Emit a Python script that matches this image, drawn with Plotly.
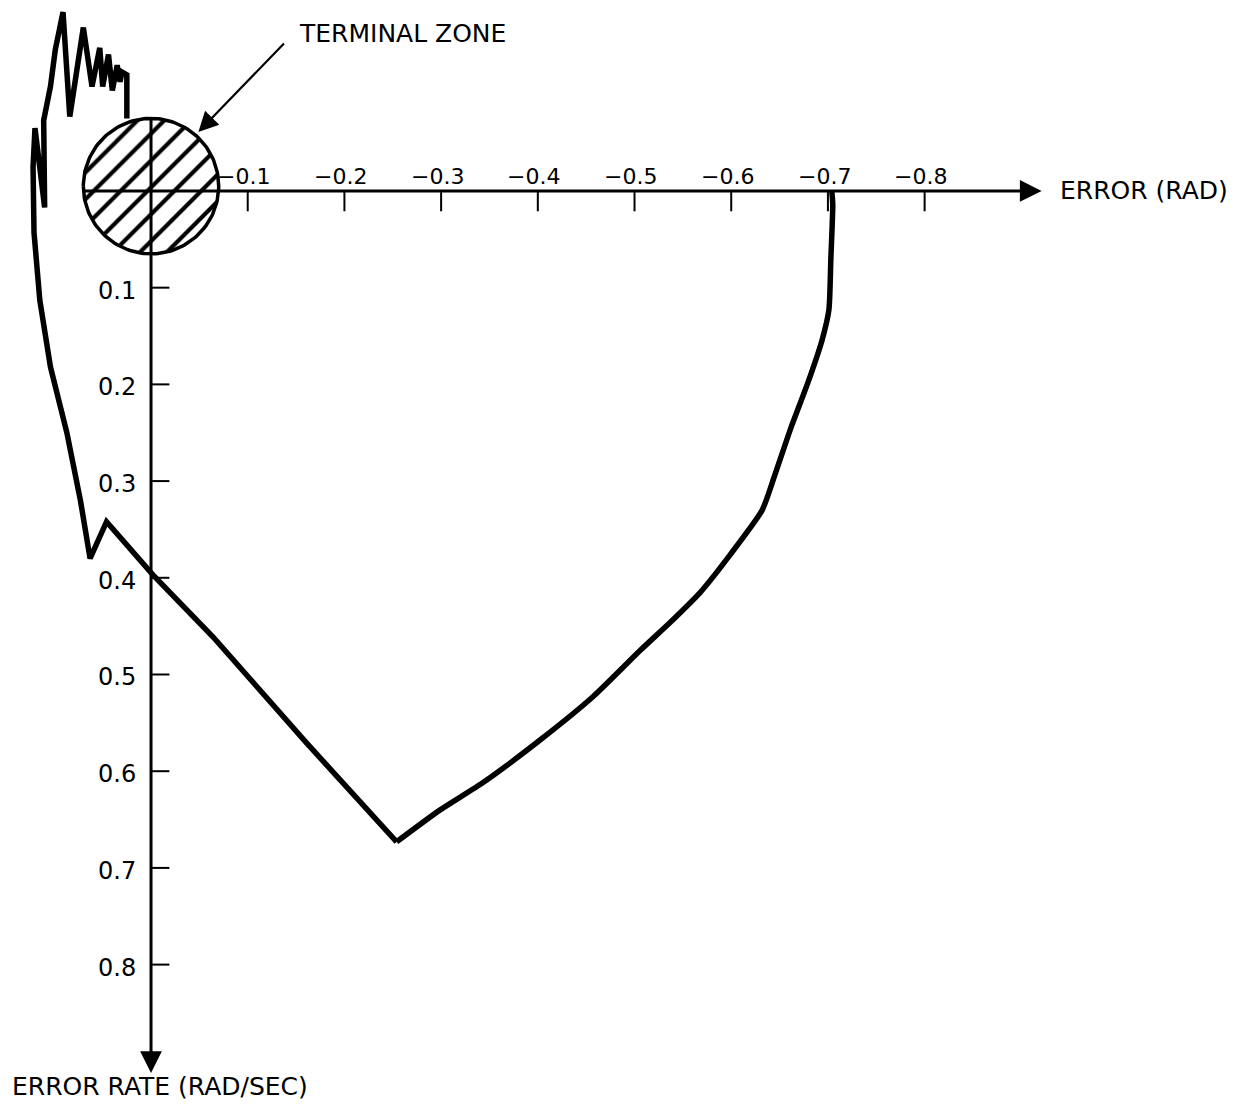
import numpy as np
import plotly.graph_objects as go

# ---- data ----
# smooth outer arc: from the start at -0.7 rad down to the lowest point
arc_error = [-0.704, -0.705, -0.703, -0.701, -0.694, -0.679, -0.661, -0.645, -0.632,
             -0.599, -0.568, -0.537, -0.506, -0.457, -0.402, -0.343, -0.299, -0.254]
arc_rate = [0.000, 0.014, 0.071, 0.123, 0.154, 0.199, 0.247, 0.294, 0.330,
            0.376, 0.415, 0.446, 0.475, 0.523, 0.568, 0.612, 0.640, 0.673]
# remainder of the trajectory: from the lowest point into the terminal zone
tail_error = [-0.254, -0.161, -0.064, -0.002, 0.046, 0.063, 0.073, 0.087, 0.104, 0.115, 0.121,
              0.122, 0.120, 0.110, 0.111, 0.104, 0.099, 0.091, 0.084, 0.070, 0.061,
              0.053, 0.050, 0.044, 0.040, 0.035, 0.032, 0.030, 0.025, 0.025]
tail_rate = [0.673, 0.571, 0.461, 0.397, 0.342, 0.380, 0.320, 0.250, 0.182, 0.113, 0.043,
             -0.025, -0.065, 0.017, -0.073, -0.108, -0.146, -0.185, -0.077, -0.169, -0.108,
             -0.148, -0.108, -0.141, -0.104, -0.130, -0.113, -0.123, -0.120, -0.075]

x_ticks = [-0.1, -0.2, -0.3, -0.4, -0.5, -0.6, -0.7, -0.8]
x_tick_labels = ["\u22120.1", "\u22120.2", "\u22120.3", "\u22120.4", "\u22120.5", "\u22120.6", "\u22120.7", "\u22120.8"]
y_ticks = [0.1, 0.2, 0.3, 0.4, 0.5, 0.6, 0.7, 0.8]
y_tick_labels = ["0.1", "0.2", "0.3", "0.4", "0.5", "0.6", "0.7", "0.8"]

zone_center = (0.0, -0.005)
zone_radius = 0.070

FONT = "DejaVu Sans"
fig = go.Figure()

# terminal zone (hatched circle)
th = np.linspace(0, 2 * np.pi, 181)
fig.add_trace(go.Scatter(
    x=zone_center[0] + zone_radius * np.cos(th),
    y=zone_center[1] + zone_radius * np.sin(th),
    mode="lines", fill="toself",
    fillpattern=dict(shape="/", size=19, solidity=0.22, fgcolor="black", bgcolor="white", fgopacity=1),
    fillcolor="white",
    line=dict(color="black", width=3.5), hoverinfo="skip"))

# tick marks
tx, ty = [], []
for t in x_ticks:
    tx += [t, t, None]
    ty += [0, 0.021, None]
fig.add_trace(go.Scatter(x=tx, y=ty, mode="lines", line=dict(color="black", width=2), hoverinfo="skip"))
sx, sy = [], []
for t in y_ticks:
    sx += [0, -0.019, None]
    sy += [t, t, None]
fig.add_trace(go.Scatter(x=sx, y=sy, mode="lines", line=dict(color="black", width=2), hoverinfo="skip"))

# trajectory
fig.add_trace(go.Scatter(x=arc_error, y=arc_rate, mode="lines",
                         line=dict(color="black", width=5.5, shape="spline", smoothing=0.6), hoverinfo="skip"))
fig.add_trace(go.Scatter(x=tail_error, y=tail_rate, mode="lines",
                         line=dict(color="black", width=5.5), hoverinfo="skip"))

ann = []
# axes with arrows
ann.append(dict(x=-0.921, y=0, ax=zone_radius, ay=0, xref="x", yref="y", axref="x", ayref="y",
                text="", showarrow=True, arrowhead=2, arrowsize=1.45, arrowwidth=3, arrowcolor="black",
                standoff=0, startstandoff=0))
ann.append(dict(x=0, y=0.912, ax=0, ay=zone_center[1] - zone_radius, xref="x", yref="y", axref="x", ayref="y",
                text="", showarrow=True, arrowhead=2, arrowsize=1.45, arrowwidth=3, arrowcolor="black",
                standoff=0, startstandoff=0))
# terminal zone pointer
ann.append(dict(x=-0.049, y=-0.061, ax=-0.139, ay=-0.154, xref="x", yref="y", axref="x", ayref="y",
                text="", showarrow=True, arrowhead=2, arrowsize=1.8, arrowwidth=2.2, arrowcolor="black",
                standoff=0, startstandoff=0))
ann.append(dict(x=-0.151, y=-0.163, xref="x", yref="y", text="TERMINAL ZONE", showarrow=False,
                xanchor="left", yanchor="middle", font=dict(family=FONT, size=25, color="black")))
ann.append(dict(x=-0.938, y=0, xref="x", yref="y", text="ERROR (RAD)", showarrow=False,
                xanchor="left", yanchor="middle", font=dict(family=FONT, size=25, color="black")))
ann.append(dict(x=0.146, y=0, xref="x", yref="paper", text="ERROR RATE (RAD/SEC)", showarrow=False,
                xanchor="left", yanchor="bottom", font=dict(family=FONT, size=25, color="black")))
for t, lab in zip(x_ticks, x_tick_labels):
    ann.append(dict(x=t + 0.004, y=-0.015, xref="x", yref="y", text=lab, showarrow=False,
                    xanchor="center", yanchor="middle", font=dict(family=FONT, size=22, color="black")))
for t, lab in zip(y_ticks, y_tick_labels):
    ann.append(dict(x=0.013, y=t + 0.003, xref="x", yref="y", text=lab, showarrow=False,
                    xanchor="right", yanchor="middle", font=dict(family=FONT, size=24, color="black")))

fig.update_layout(
    width=1225, height=1095,
    margin=dict(l=0, r=0, t=0, b=0),
    paper_bgcolor="white", plot_bgcolor="white",
    showlegend=False,
    annotations=ann,
    xaxis=dict(range=[0.1479, -1.1189], visible=False, fixedrange=True),
    yaxis=dict(range=[0.9431, -0.1892], visible=False, fixedrange=True),
)

fig.write_html("out.html")
